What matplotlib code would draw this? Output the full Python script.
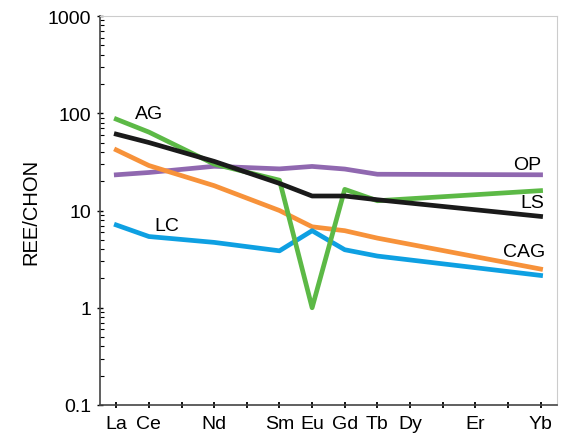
import matplotlib.pyplot as plt
from matplotlib.ticker import LogLocator, NullFormatter

plt.rcParams['font.family'] = ['Liberation Sans', 'DejaVu Sans']

# element labels and their atomic numbers (x positions)
elements = ["La", "Ce", "Nd", "Sm", "Eu", "Gd", "Tb", "Dy", "Er", "Yb"]
atomic_num = [57, 58, 60, 62, 63, 64, 65, 66, 68, 70]

# chondrite-normalised values (x = atomic numbers)
ag_x = [57, 58, 60, 62, 63, 64, 65, 70]
ag_y = [87, 64, 30, 20.5, 1.0, 16.5, 12.6, 16]

ls_x = [57, 58, 60, 62, 63, 64, 65, 70]
ls_y = [61, 50, 32, 19, 14.1, 14.1, 12.9, 8.7]

cag_x = [57, 58, 60, 62, 63, 64, 65, 70]
cag_y = [42, 29, 18, 10, 6.8, 6.2, 5.2, 2.5]

op_x = [57, 58, 60, 62, 63, 64, 65, 70]
op_y = [23.3, 24.6, 28.5, 26.8, 28.4, 26.7, 23.6, 23.3]

lc_x = [57, 58, 60, 62, 63, 64, 65, 70]
lc_y = [7.1, 5.4, 4.7, 3.85, 6.2, 3.95, 3.4, 2.15]

fig = plt.figure(figsize=(5.69, 4.39), dpi=100)
ax = fig.add_axes([0.1757, 0.0752, 0.803, 0.886])

lw = 3.4
ax.plot(op_x, op_y, color="#9068b0", lw=lw)
ax.plot(cag_x, cag_y, color="#f7923a", lw=lw)
ax.plot(lc_x, lc_y, color="#0ea0e2", lw=lw)
ax.plot(ag_x, ag_y, color="#5cb946", lw=lw)
ax.plot(ls_x, ls_y, color="#1a1a1a", lw=lw)

ax.set_yscale("log")
ax.set_ylim(0.1, 1000)
ax.set_xlim(56.5, 70.5)
ax.set_xticks(atomic_num)
ax.set_xticklabels(elements)
ax.set_xticks(range(57, 71), minor=True)
ax.yaxis.set_minor_locator(LogLocator(base=10, subs=range(2, 10)))
ax.yaxis.set_minor_formatter(NullFormatter())
ax.set_yticks([0.1, 1, 10, 100, 1000])
ax.set_yticklabels(["0.1", "1", "10", "100", "1000"])

ax.tick_params(axis="y", which="major", direction="inout", length=5, width=1, labelsize=14, pad=4)
ax.tick_params(axis="x", which="major", direction="inout", length=5, width=1.3, labelsize=14, pad=5)
ax.tick_params(axis="y", which="minor", direction="in", length=3, width=0.8)
ax.tick_params(axis="x", which="minor", direction="inout", length=5, width=1.3)

for s in ["top", "right"]:
    ax.spines[s].set_color("#cccccc")
    ax.spines[s].set_linewidth(0.8)
for s in ["left", "bottom"]:
    ax.spines[s].set_color("#444444")
    ax.spines[s].set_linewidth(1.2)

ax.set_ylabel("REE/CHON", fontsize=14.5)
ax.yaxis.set_label_coords(-0.13, 0.5)

# series labels
ax.text(58.0, 100, "AG", fontsize=14, ha="center", va="center")
ax.text(58.55, 7.0, "LC", fontsize=14, ha="center", va="center")
ax.text(69.6, 29.7, "OP", fontsize=14, ha="center", va="center")
ax.text(69.74, 12.0, "LS", fontsize=14, ha="center", va="center")
ax.text(69.5, 3.77, "CAG", fontsize=14, ha="center", va="center")

fig.savefig("out.png", dpi=100)
